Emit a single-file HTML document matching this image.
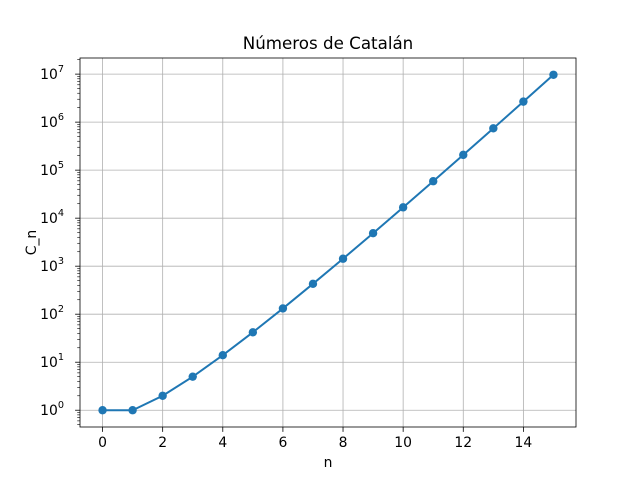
<!DOCTYPE html>
<html><head><meta charset="utf-8"><style>body{margin:0;background:#fff}svg{display:block}text{font-family:"DejaVu Sans","Liberation Sans",sans-serif;fill:#000}</style></head>
<body>
<svg id="chart" width="640" height="480"></svg>
<script>
const nValues=[0,1,2,3,4,5,6,7,8,9,10,11,12,13,14,15];
const catalanValues=[1,1,2,5,14,42,132,429,1430,4862,16796,58786,208012,742900,2674440,9694845];
const xTicks=[0,2,4,6,8,10,12,14];
const yTickExps=[0,1,2,3,4,5,6,7];
const L=80,R=576,T=58,B=427;
const xMin=-0.75,xMax=15.75;
const lmax=Math.log10(Math.max(...catalanValues)),lmin=0,pad=(lmax-lmin)*0.05;
const yLo=lmin-pad,yHi=lmax+pad;
const sx=v=>L+(v-xMin)/(xMax-xMin)*(R-L);
const sy=v=>B-(Math.log10(v)-yLo)/(yHi-yLo)*(B-T);
const svg=document.getElementById('chart');const NS='http://www.w3.org/2000/svg';
function mk(t,a,p){const e=document.createElementNS(NS,t);for(const k in a)e.setAttribute(k,a[k]);(p||svg).appendChild(e);return e;}
mk('rect',{x:0,y:0,width:640,height:480,fill:'#fff'});
xTicks.forEach(t=>{const g=mk('line',{x1:sx(t),x2:sx(t),y1:T,y2:B,stroke:'#b0b0b0','stroke-width':0.8});


const tk=mk('line',{x1:sx(t),x2:sx(t),y1:B,y2:B+4.9,stroke:'#000','stroke-width':0.8});


const lb=mk('text',{x:sx(t),y:B+20,'font-size':13.9,'text-anchor':'middle'});lb.textContent=t;

});
yTickExps.forEach(e=>{const y=sy(Math.pow(10,e));
const g=mk('line',{x1:L,x2:R,y1:y,y2:y,stroke:'#b0b0b0','stroke-width':0.8});


const tk=mk('line',{x1:L-4.9,x2:L,y1:y,y2:y,stroke:'#000','stroke-width':0.8});


const lb=mk('text',{x:L-16,y:y+5,'font-size':13.9,'text-anchor':'end'});
lb.innerHTML='10<tspan dy="-7" font-size="9.7">'+e+'</tspan>';

});
for(let e=-1;e<=7;e++)for(let m=2;m<=9;m++){const v=m*Math.pow(10,e);const l=Math.log10(v);if(l<yLo||l>yHi)continue;
const tk=mk('line',{x1:L-2.8,x2:L,y1:sy(v),y2:sy(v),stroke:'#000','stroke-width':0.6});

}
const pts=nValues.map((n,i)=>sx(n)+','+sy(catalanValues[i])).join(' ');
const pl=mk('polyline',{points:pts,fill:'none',stroke:'#1f77b4','stroke-width':2});


nValues.forEach((n,i)=>{const c=mk('circle',{cx:sx(n),cy:sy(catalanValues[i]),r:4.2,fill:'#1f77b4'});

});
const fr=mk('rect',{x:L,y:T,width:R-L,height:B-T,fill:'none',stroke:'#000','stroke-width':0.8});


const ti=mk('text',{x:(L+R)/2,y:T-9,'font-size':16.7,'text-anchor':'middle'});ti.textContent='Números de Catalán';


const xl=mk('text',{x:(L+R)/2,y:467,'font-size':13.9,'text-anchor':'middle'});xl.textContent='n';


const yl=mk('text',{x:0,y:0,'font-size':13.9,'text-anchor':'middle',transform:'translate(36,'+((T+B)/2)+') rotate(-90)'});yl.textContent='C_n';


</script>
</body></html>
